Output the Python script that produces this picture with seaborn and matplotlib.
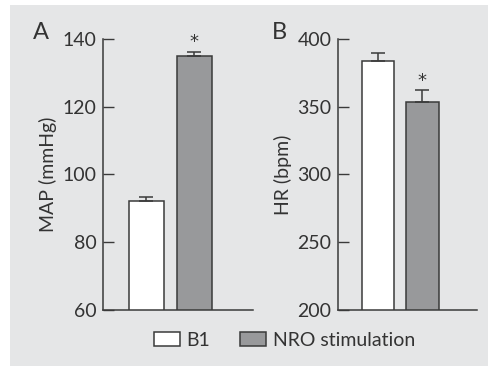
import matplotlib
matplotlib.use("Agg")
import matplotlib.pyplot as plt
from matplotlib.patches import Rectangle, Patch
import seaborn as sns
import pandas as pd

conditions = ["B1", "NRO stimulation"]
map_mean = [92.2, 134.8]
map_err = [1.0, 1.4]
hr_mean = [383.3, 353.5]
hr_err = [6.0, 8.5]
significant = [False, True]

bg = "#e5e6e7"
edge = "#3a3a3a"
txt = "#333333"
colors = {"B1": "white", "NRO stimulation": "#98999b"}

sns.set_theme(style="ticks")
plt.rcParams["font.family"] = ["Lato", "DejaVu Sans"]
plt.rcParams["text.color"] = txt

fig = plt.figure(figsize=(4.9, 3.66), dpi=100)
fig.patches.append(Rectangle((10 / 490, 0), 478 / 490, 361 / 366,
                             transform=fig.transFigure, facecolor=bg,
                             edgecolor="none", zorder=-10))

ax_a = fig.add_axes([103 / 490, 1 - 310 / 366, 150 / 490, 271.3 / 366])
ax_b = fig.add_axes([337.7 / 490, 1 - 310 / 366, 139 / 490, 271.3 / 366])

panels = [
    (ax_a, map_mean, map_err, "MAP (mmHg)", (60, 140), [60, 80, 100, 120, 140], "A"),
    (ax_b, hr_mean, hr_err, "HR (bpm)", (200, 400), [200, 250, 300, 350, 400], "B"),
]

for ax, means, errs, label, ylim, ticks, letter in panels:
    df = pd.DataFrame({"condition": conditions, "value": means})
    sns.barplot(data=df, x="condition", y="value", hue="condition",
                palette=colors, order=conditions, hue_order=conditions,
                dodge=False, width=0.74, errorbar=None, legend=False,
                edgecolor=edge, linewidth=1.1, ax=ax)
    ax.set_facecolor("none")
    for patch, m, e, sig in zip(ax.patches, means, errs, significant):
        xc = patch.get_x() + patch.get_width() / 2
        ax.errorbar([xc], [m], yerr=[[0], [e]], fmt="none", ecolor=edge,
                    elinewidth=1.1, capsize=5, capthick=1.1, clip_on=False)
        if sig:
            ax.annotate("*", (xc, m + e), xytext=(0, 3),
                        textcoords="offset points", ha="center", va="baseline",
                        fontsize=13, color=txt, family="DejaVu Sans")
    ax.set_xlim(-0.91, 2.23)
    ax.set_ylim(*ylim)
    ax.set_yticks(ticks)
    ax.set_xticks([])
    ax.set_xlabel("")
    ax.set_ylabel(label, fontsize=14, color=txt, labelpad=4)
    ax.tick_params(axis="y", direction="in", labelsize=14, length=8, width=1.0,
                   color=edge, labelcolor=txt, pad=4.5)
    for side in ["top", "right"]:
        ax.spines[side].set_visible(False)
    for side in ["left", "bottom"]:
        ax.spines[side].set_color(edge)
        ax.spines[side].set_linewidth(1.1)
    ax.text(-0.47, 1.0, letter, transform=ax.transAxes, fontsize=17,
            ha="left", va="baseline", color=txt)

handles = [Patch(facecolor=colors[c], edgecolor=edge, linewidth=1.1, label=c)
           for c in conditions]
fig.legend(handles=handles, loc="center", bbox_to_anchor=(0.58, 1 - 340 / 366),
           ncol=2, frameon=False, fontsize=14, handlelength=1.35,
           handleheight=0.75, handletextpad=0.35, columnspacing=1.5)

fig.savefig("out.png", dpi=100, facecolor="white")
